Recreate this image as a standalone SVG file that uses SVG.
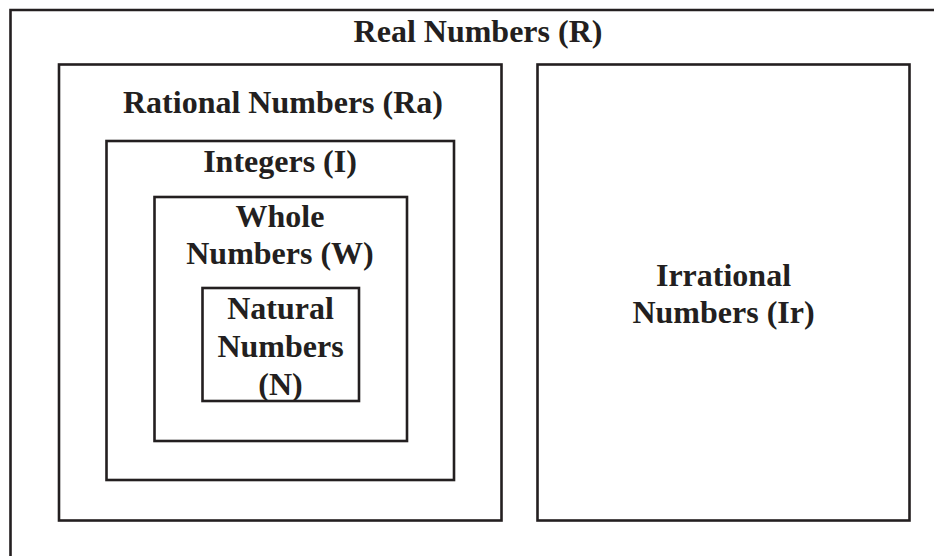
<svg xmlns="http://www.w3.org/2000/svg" width="934" height="556" viewBox="0 0 934 556">
<style>
.box{fill:none;stroke:#231f20;stroke-width:2.6}
.lbl{font-family:"Liberation Serif","Times New Roman",serif;font-weight:bold;font-size:32px;fill:#231f20;text-anchor:middle}
</style>
<rect width="934" height="556" fill="#ffffff"/>
<g id="real">
<path class="box" d="M10.5,560 V10 H940"/>
<text class="lbl" x="478" y="42">Real Numbers (R)</text>
</g>
<g id="rational">
<rect class="box" x="59" y="64.5" width="442.5" height="456"/>
<text class="lbl" x="283" y="113">Rational Numbers (Ra)</text>
</g>
<g id="irrational">
<rect class="box" x="537.5" y="64.5" width="372" height="456"/>
<text class="lbl" x="723.5" y="286">Irrational</text>
<text class="lbl" x="723.5" y="323">Numbers (Ir)</text>
</g>
<g id="integers">
<rect class="box" x="106.5" y="141" width="347.5" height="339"/>
<text class="lbl" x="280" y="172">Integers (I)</text>
</g>
<g id="whole">
<rect class="box" x="154.5" y="197" width="252.5" height="244"/>
<text class="lbl" x="280" y="227">Whole</text>
<text class="lbl" x="280" y="264">Numbers (W)</text>
</g>
<g id="natural">
<rect class="box" x="202.5" y="288" width="156.5" height="113"/>
<text class="lbl" x="280.5" y="319">Natural</text>
<text class="lbl" x="280.5" y="357">Numbers</text>
<text class="lbl" x="280.5" y="395">(N)</text>
</g>
<g id="connectors"></g>
</svg>
